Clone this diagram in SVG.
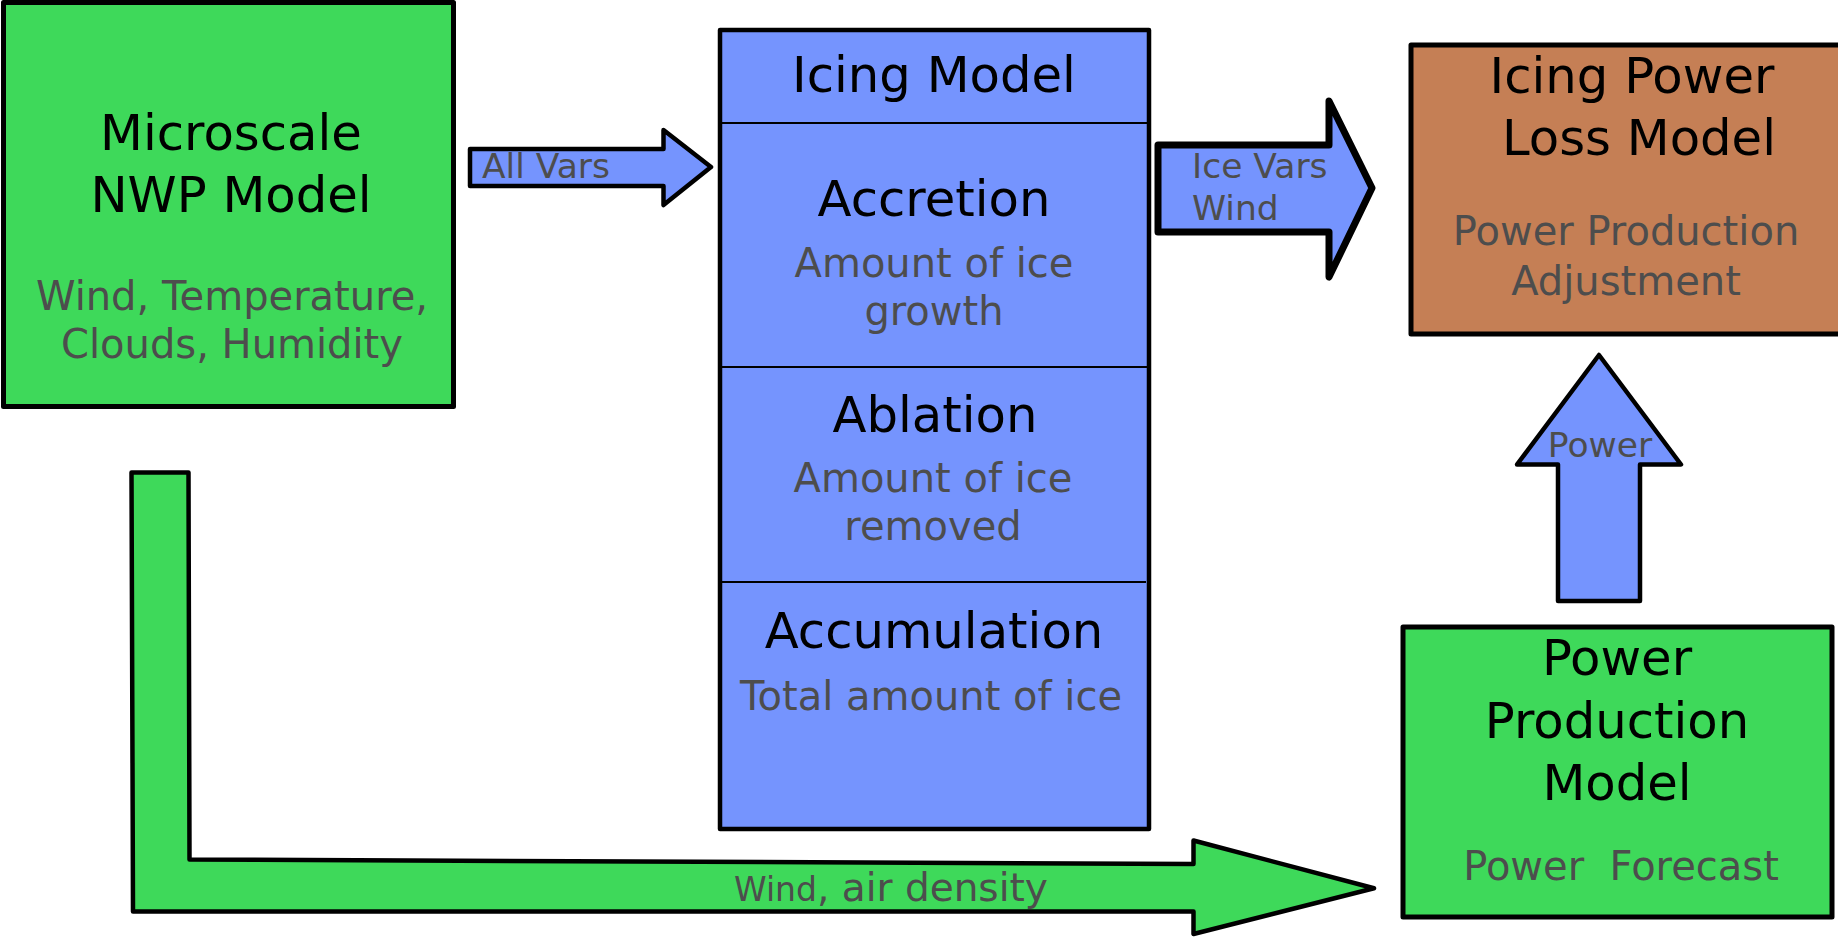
<svg xmlns="http://www.w3.org/2000/svg" width="1838" height="937" viewBox="0 0 1838 937">
<style>
text{font-family:"DejaVu Sans","Noto Sans",sans-serif;text-anchor:middle}
.t{font-size:49.7px;fill:#000}
.s{font-size:40px;fill:#4d4d4d}
.l{font-size:34.5px;fill:#4d4d4d}
.g{fill:#3ed95a;stroke:#000;stroke-width:5;stroke-linejoin:round}
.b{fill:#7594fe;stroke:#000;stroke-width:4.5;stroke-linejoin:round}
.br{fill:#c57f55;stroke:#000;stroke-width:5;stroke-linejoin:round}
.div{stroke:#000;stroke-width:2}
</style>
<rect width="1838" height="937" fill="#fff"/>
<g id="connectors">
<path class="b" d="M470,149 L663.5,149 L663.5,130 L711,167 L663.5,205 L663.5,186 L470,186 Z"/>
<text class="l" x="482" y="178" style="text-anchor:start">All Vars</text>
<path class="b" style="stroke-width:7" d="M1158,145 L1329,145 L1329,101 L1372,188 L1329,277 L1329,232 L1158,232 Z"/>
<text class="l" x="1192" y="178" style="text-anchor:start">Ice Vars</text>
<text class="l" x="1192" y="220" style="text-anchor:start">Wind</text>
<path class="b" d="M1599,355 L1681,464.5 L1640,464.5 L1640,601 L1558,601 L1558,464.5 L1517,464.5 Z"/>
<text class="l" x="1600" y="457">Power</text>
<path class="g" style="stroke-width:4.5" d="M131.5,472.5 L188.5,472.5 L189.5,859.5 L1193.5,864 L1193.5,840.5 L1374,888.3 L1193.5,934 L1193.5,911.5 L133,911.5 Z"/>
<text x="734" y="901" style="text-anchor:start;fill:#4d4d4d"><tspan font-size="33">Wind</tspan><tspan font-size="39">, air density</tspan></text>
</g>
<g id="nwp">
<rect class="g" x="3.5" y="2.5" width="450" height="404"/>
<text class="t" x="231" y="150">Microscale</text>
<text class="t" x="231" y="212">NWP Model</text>
<text class="s" x="232" y="310">Wind, Temperature,</text>
<text class="s" x="232" y="358">Clouds, Humidity</text>
</g>
<g id="icing">
<rect class="b" x="720" y="30" width="429" height="799"/>
<line class="div" x1="722" y1="123" x2="1147" y2="123"/>
<line class="div" x1="722" y1="367" x2="1147" y2="367"/>
<line class="div" x1="722" y1="582" x2="1146" y2="582"/>
<text class="t" x="934" y="92">Icing Model</text>
<text class="t" x="934" y="216">Accretion</text>
<text class="s" x="934" y="277">Amount of ice</text>
<text class="s" x="934" y="325">growth</text>
<text class="t" x="935" y="432">Ablation</text>
<text class="s" x="933" y="492">Amount of ice</text>
<text class="s" x="933" y="540">removed</text>
<text class="t" x="934" y="648">Accumulation</text>
<text class="s" x="931" y="710">Total amount of ice</text>
</g>
<g id="lossmodel">
<rect class="br" x="1411" y="45" width="432" height="289"/>
<text class="t" x="1632" y="93">Icing Power</text>
<text class="t" x="1639" y="155">Loss Model</text>
<text class="s" x="1626" y="245">Power Production</text>
<text class="s" x="1626" y="295">Adjustment</text>
</g>
<g id="production">
<rect class="g" x="1403" y="627" width="429" height="290"/>
<text class="t" x="1617" y="675">Power</text>
<text class="t" x="1617" y="738">Production</text>
<text class="t" x="1617" y="800">Model</text>
<text class="s" x="1621" y="880" xml:space="preserve">Power  Forecast</text>
</g>
</svg>
